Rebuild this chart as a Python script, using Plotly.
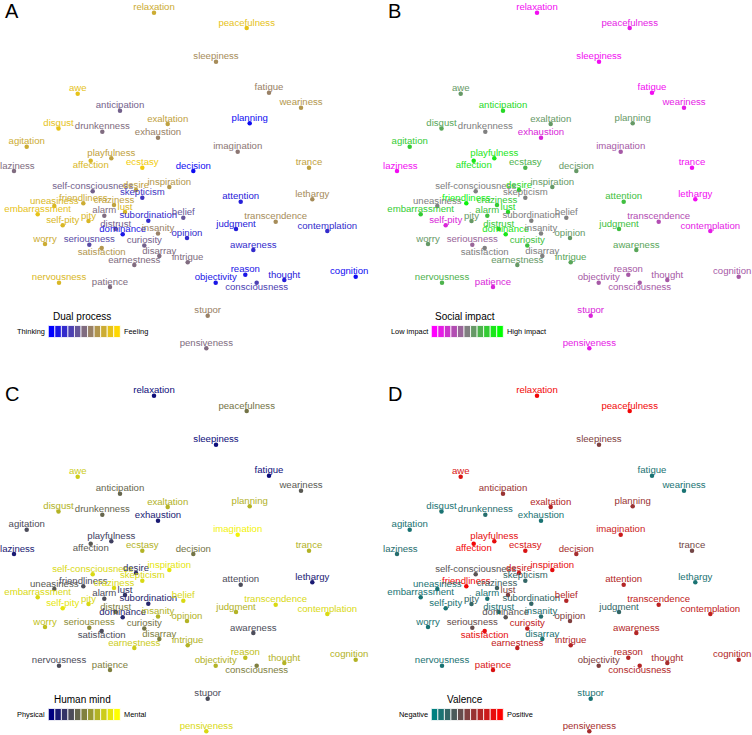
import plotly.graph_objects as go
from plotly.colors import sample_colorscale

words = ["relaxation", "peacefulness", "sleepiness", "awe", "fatigue", "anticipation",
         "weariness", "exaltation", "planning", "disgust", "drunkenness", "exhaustion",
         "agitation", "imagination", "playfulness", "affection", "ecstasy", "decision",
         "laziness", "trance", "self-consciousness", "desire", "inspiration", "skepticism",
         "friendliness", "craziness", "uneasiness", "lust", "embarrassment", "alarm",
         "subordination", "belief", "lethargy", "attention", "self-pity", "pity",
         "distrust", "dominance", "insanity", "opinion", "judgment", "transcendence",
         "contemplation", "worry", "seriousness", "curiosity", "disarray", "satisfaction",
         "earnestness", "intrigue", "awareness", "nervousness", "patience", "objectivity",
         "reason", "thought", "consciousness", "cognition", "stupor", "pensiveness"]

dim1 = [-3.1, 6.17, 3.1, -10.73, 8.4, -6.5,
        11.6, -1.73, 6.47, -12.65, -8.27, -2.7,
        -15.83, 5.27, -7.37, -9.43, -4.27, 0.83,
        -17.1, 12.4, -9.23, -4.9, -1.57, -4.27,
        -10.17, -7.1, -13.07, -6.0, -14.73, -8.07,
        -3.67, -0.17, 12.73, 5.57, -12.23, -9.65,
        -6.93, -6.23, -2.7, 0.2, 5.1, 9.07,
        14.23, -14.0, -9.57, -4.07, -2.57, -8.33,
        -5.07, 0.27, 6.83, -12.6, -7.5, 3.07,
        6.03, 9.93, 7.17, 17.07, 2.27, 2.13]

dim2 = [16.23, 14.7, 11.33, 8.13, 8.23, 6.43,
        6.73, 5.1, 5.17, 4.65, 4.33, 3.73,
        2.83, 2.33, 1.67, 1.43, 0.73, 0.4,
        0.4, 0.73, -1.63, -1.5, -1.2, -2.27,
        -2.83, -3.0, -3.1, -3.7, -3.93, -4.07,
        -4.57, -4.27, -2.43, -2.67, -5.03, -4.6,
        -5.4, -5.93, -5.85, -6.3, -5.4, -4.67,
        -5.6, -6.9, -6.97, -7.05, -8.1, -7.3,
        -9.0, -8.73, -7.5, -10.77, -11.2, -10.77,
        -9.97, -10.5, -10.77, -10.17, -14.07, -17.33]

dual_process = [0.8, 0.9, 0.65, 0.9, 0.6, 0.45,
                0.7, 0.75, 0.05, 0.9, 0.5, 0.6,
                0.8, 0.55, 0.75, 0.85, 0.95, 0.05,
                0.5, 0.75, 0.45, 0.75, 0.7, 0.25,
                0.8, 0.75, 0.85, 0.85, 0.9, 0.5,
                0.2, 0.4, 0.65, 0.15, 0.85, 0.85,
                0.45, 0.1, 0.6, 0.2, 0.15, 0.65,
                0.2, 0.8, 0.35, 0.45, 0.5, 0.7,
                0.5, 0.5, 0.2, 0.85, 0.5, 0.1,
                0.1, 0.15, 0.3, 0.05, 0.6, 0.5]

social_impact = [0.05, 0.1, 0.05, 0.6, 0.05, 0.85,
                 0.1, 0.6, 0.6, 0.65, 0.5, 0.15,
                 0.8, 0.35, 0.9, 0.9, 0.7, 0.6,
                 0.05, 0.05, 0.5, 0.85, 0.6, 0.5,
                 0.95, 0.8, 0.5, 0.85, 0.8, 0.75,
                 0.5, 0.5, 0.05, 0.75, 0.15, 0.6,
                 0.8, 0.9, 0.5, 0.6, 0.75, 0.3,
                 0.1, 0.6, 0.4, 0.75, 0.5, 0.5,
                 0.6, 0.65, 0.65, 0.7, 0.15, 0.35,
                 0.35, 0.35, 0.35, 0.35, 0.15, 0.1]

human_mind = [0.05, 0.45, 0.05, 0.8, 0.05, 0.4,
              0.35, 0.7, 0.7, 0.7, 0.4, 0.1,
              0.3, 0.95, 0.25, 0.35, 0.7, 0.45,
              0.1, 0.7, 0.85, 0.2, 0.9, 0.85,
              0.3, 0.85, 0.35, 0.2, 0.85, 0.3,
              0.15, 0.85, 0.1, 0.3, 0.9, 0.85,
              0.5, 0.15, 0.7, 0.7, 0.7, 0.85,
              0.85, 0.75, 0.55, 0.45, 0.5, 0.3,
              0.8, 0.7, 0.3, 0.3, 0.5, 0.7,
              0.75, 0.7, 0.5, 0.7, 0.3, 0.85]

valence = [0.95, 0.95, 0.5, 0.85, 0.1, 0.6,
           0.1, 0.7, 0.6, 0.1, 0.15, 0.1,
           0.1, 0.8, 0.9, 0.95, 0.85, 0.65,
           0.15, 0.45, 0.35, 0.8, 0.9, 0.2,
           0.95, 0.25, 0.1, 0.5, 0.1, 0.1,
           0.2, 0.7, 0.1, 0.7, 0.1, 0.2,
           0.1, 0.35, 0.15, 0.5, 0.2, 0.75,
           0.75, 0.1, 0.4, 0.75, 0.1, 0.9,
           0.75, 0.7, 0.7, 0.1, 0.85, 0.5,
           0.7, 0.65, 0.7, 0.7, 0.1, 0.65]

panel_letters = ["A", "B", "C", "D"]
legend_titles = ["Dual process", "Social impact", "Human mind", "Valence"]
low_labels = ["Thinking", "Low impact", "Physical", "Negative"]
high_labels = ["Feeling", "High impact", "Mental", "Positive"]
panel_values = [dual_process, social_impact, human_mind, valence]
colorscales = [
    [[0, "rgb(0,0,255)"], [1, "rgb(255,215,0)"]],
    [[0, "rgb(255,0,255)"], [1, "rgb(0,255,0)"]],
    [[0, "rgb(0,0,128)"], [1, "rgb(255,255,0)"]],
    [[0, "rgb(0,128,128)"], [1, "rgb(255,0,0)"]],
]

# label placement style (labels nudged away like a repel layout)
LABEL_BELOW = {"affection", "satisfaction", "consciousness"}
LABEL_XSHIFT = {"laziness": 3.5, "cognition": -7}

W, H = 752, 735
PW, PH = 369, 352  # panel size in px
OFF = 383
FONT = "Liberation Sans, Arial, sans-serif"
LABEL_SIZE = 9.6

domains = [
    ([0, PW / W], [1 - PH / H, 1]),
    ([OFF / W, 1], [1 - PH / H, 1]),
    ([0, PW / W], [0, PH / H]),
    ([OFF / W, 1], [0, PH / H]),
]

fig = go.Figure()
layout = dict(width=W, height=H, margin=dict(l=0, r=0, t=0, b=0),
              paper_bgcolor="white", plot_bgcolor="white", showlegend=False,
              font=dict(family=FONT))
shapes = []
annotations = []

text_trace = [("" if w in LABEL_XSHIFT else w) for w in words]
text_pos = [("bottom center" if w in LABEL_BELOW else "top center") for w in words]

for i in range(4):
    sfx = "" if i == 0 else str(i + 1)
    xa, ya = "x" + sfx, "y" + sfx
    xd, yd = domains[i]
    layout["xaxis" + sfx] = dict(domain=xd, range=[-18.5, 18.4], visible=False,
                                 anchor=ya, fixedrange=True)
    layout["yaxis" + sfx] = dict(domain=yd, range=[-17.7, 17.5], visible=False,
                                 anchor=xa, fixedrange=True)
    vals = panel_values[i]
    cs = colorscales[i]
    txtcol = sample_colorscale(cs, vals)
    fig.add_trace(go.Scatter(
        x=dim1, y=dim2, mode="markers",
        marker=dict(size=4.5, color=vals, colorscale=cs, cmin=0, cmax=1),
        cliponaxis=False, xaxis=xa, yaxis=ya, hoverinfo="skip"))
    fig.add_trace(go.Scatter(
        x=dim1, y=dim2, mode="text", text=text_trace,
        textposition=text_pos,
        textfont=dict(family=FONT, size=LABEL_SIZE, color=txtcol),
        marker=dict(size=2),
        cliponaxis=False, xaxis=xa, yaxis=ya, hoverinfo="text"))
    for j, w in enumerate(words):
        if w in LABEL_XSHIFT:
            annotations.append(dict(text=w, x=dim1[j], y=dim2[j], xref=xa, yref=ya,
                                    xanchor="center", yanchor="middle",
                                    xshift=LABEL_XSHIFT[w], yshift=6, showarrow=False,
                                    font=dict(family=FONT, size=LABEL_SIZE, color=txtcol[j])))

    xdr = xa + " domain"
    ydr = ya + " domain"
    annotations.append(dict(text=panel_letters[i], xref=xdr, yref=ydr,
                            x=3 / PW, y=1 + 2 / PH, xanchor="left", yanchor="top",
                            showarrow=False, font=dict(family=FONT, size=20, color="black")))
    n = 11
    x0, x1 = 48.3, 120.3
    step = (x1 - x0) / n
    cols = sample_colorscale(cs, [k / (n - 1) for k in range(n)])
    for k in range(n):
        shapes.append(dict(type="rect", xref=xdr, yref=ydr,
                           x0=(x0 + k * step) / PW, x1=(x0 + (k + 1) * step) / PW,
                           y0=1 - 337.5 / PH, y1=1 - 325.5 / PH,
                           fillcolor=cols[k], line=dict(color="white", width=0.8)))
    annotations.append(dict(text=legend_titles[i], xref=xdr, yref=ydr,
                            x=82 / PW, y=1 - 316.7 / PH, xanchor="center", yanchor="middle",
                            showarrow=False, font=dict(family=FONT, size=10, color="black")))
    annotations.append(dict(text=low_labels[i], xref=xdr, yref=ydr,
                            x=46.5 / PW, y=1 - 331.5 / PH, xanchor="right", yanchor="middle",
                            showarrow=False, font=dict(family=FONT, size=7.4, color="black")))
    annotations.append(dict(text=high_labels[i], xref=xdr, yref=ydr,
                            x=121.5 / PW, y=1 - 331.5 / PH, xanchor="left", yanchor="middle",
                            showarrow=False, font=dict(family=FONT, size=7.4, color="black")))

layout["shapes"] = shapes
layout["annotations"] = annotations
fig.update_layout(**layout)
fig.write_html("out.html", config={"displayModeBar": False},
               post_script="document.body.style.margin='0';document.body.style.overflow='hidden';")
